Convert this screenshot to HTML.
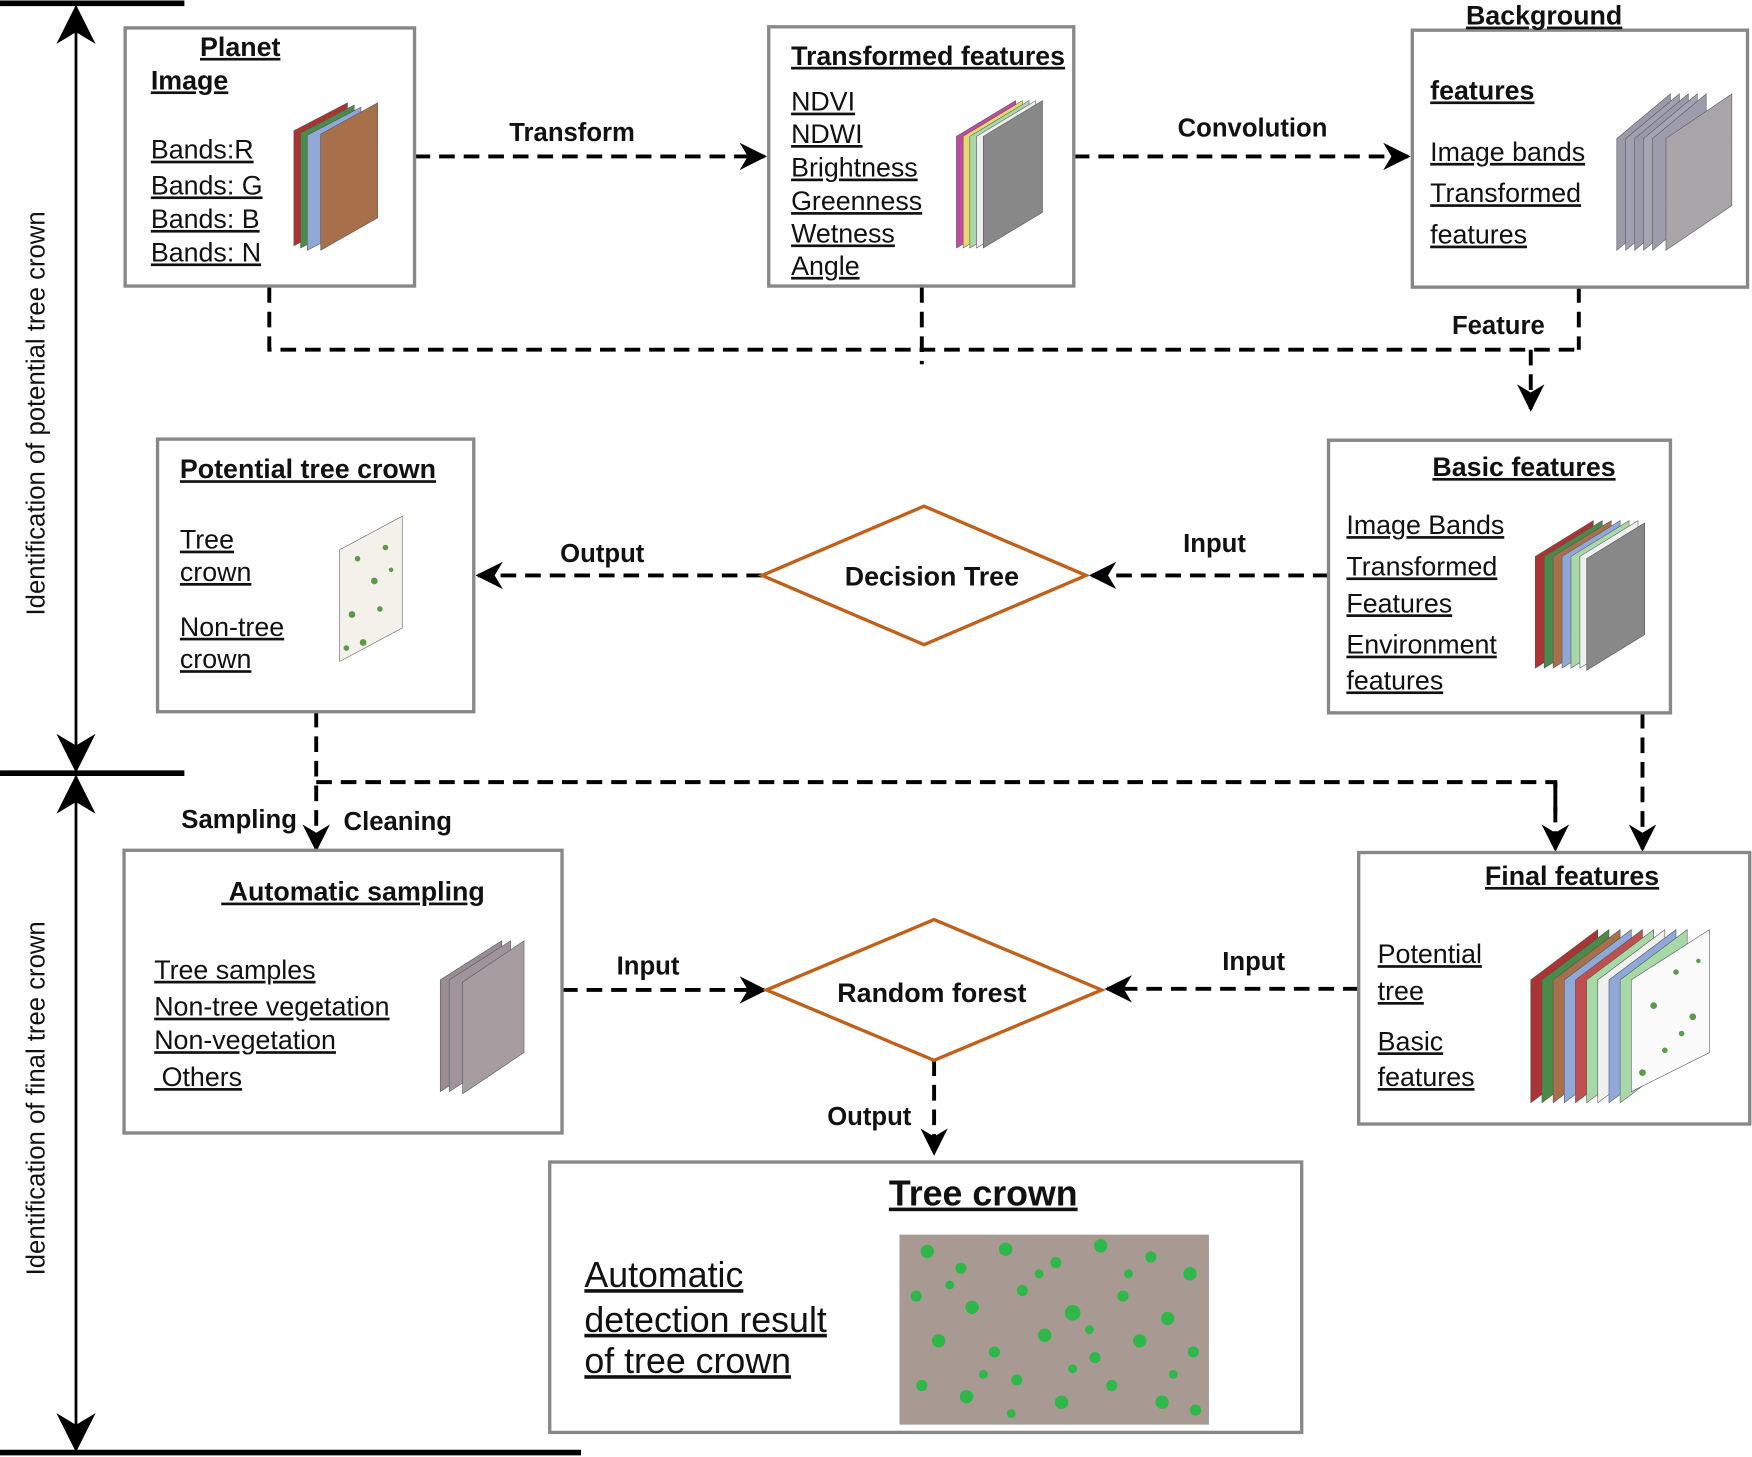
<!DOCTYPE html>
<html><head><meta charset="utf-8"><style>
html,body{margin:0;padding:0;background:#fff;}
svg{display:block}
text{font-family:"Liberation Sans",sans-serif;fill:#111}
.u{text-decoration:underline}
.b{font-weight:bold}
.t{font-size:24px}
.l{font-size:23px;font-weight:bold}
.box{fill:#fff;stroke:#888;stroke-width:3}
.d{fill:none;stroke:#000;stroke-width:3.5;stroke-dasharray:14 8}
.dia{fill:#fff;stroke:#c0601a;stroke-width:3}
</style></head><body>
<svg width="1752" height="1457" viewBox="0 0 1568 1304" xmlns="http://www.w3.org/2000/svg">
<defs>
<marker id="ah" viewBox="0 0 20 20" refX="18" refY="10" markerWidth="7" markerHeight="7" orient="auto" markerUnits="strokeWidth">
<path d="M0,0 L20,10 L0,20 L6,10 Z" fill="#000"/>
</marker>
<marker id="ah2" viewBox="0 0 20 20" refX="19" refY="10" markerWidth="14" markerHeight="14" orient="auto-start-reverse" markerUnits="strokeWidth">
<path d="M0,0 L20,10 L0,20 L6,10 Z" fill="#000"/>
</marker>
</defs>
<!-- side rulers -->
<line x1="0" y1="3" x2="165" y2="3" stroke="#000" stroke-width="5"/>
<line x1="0" y1="692" x2="165" y2="692" stroke="#000" stroke-width="5"/>
<line x1="0" y1="1300" x2="520" y2="1300" stroke="#000" stroke-width="5"/>
<line x1="68" y1="6" x2="68" y2="690" stroke="#000" stroke-width="2.5" marker-start="url(#ah2)" marker-end="url(#ah2)"/>
<line x1="68" y1="695" x2="68" y2="1298" stroke="#000" stroke-width="2.5" marker-start="url(#ah2)" marker-end="url(#ah2)"/>
<text x="40" y="370" font-size="23" text-anchor="middle" transform="rotate(-90 40 370)">Identification of potential tree crown</text>
<text x="40" y="983" font-size="23" text-anchor="middle" transform="rotate(-90 40 983)">Identification of final tree crown</text>

<!-- connectors -->
<line class="d" x1="371" y1="140" x2="684" y2="140" marker-end="url(#ah)"/>
<text class="l" x="512" y="126" text-anchor="middle">Transform</text>
<line class="d" x1="961" y1="140" x2="1260" y2="140" marker-end="url(#ah)"/>
<text class="l" x="1121" y="122" text-anchor="middle">Convolution</text>
<polyline class="d" points="241,257 241,313 1413,313"/>
<line class="d" x1="825" y1="257" x2="825" y2="326"/>
<line class="d" x1="1413" y1="257" x2="1413" y2="313"/>
<line class="d" x1="1370" y1="313" x2="1370" y2="366" marker-end="url(#ah)"/>
<text class="l" x="1341" y="299" text-anchor="middle">Feature</text>
<line class="d" x1="1189" y1="515" x2="977" y2="515" marker-end="url(#ah)"/>
<text class="l" x="1087" y="494" text-anchor="middle">Input</text>
<line class="d" x1="682" y1="515" x2="428" y2="515" marker-end="url(#ah)"/>
<text class="l" x="539" y="503" text-anchor="middle">Output</text>
<line class="d" x1="283" y1="637" x2="283" y2="760" marker-end="url(#ah)"/>
<polyline class="d" points="283,700 1392,700 1392,730"/>
<line class="d" x1="1392" y1="700" x2="1392" y2="760" marker-end="url(#ah)"/>
<line class="d" x1="1470" y1="638" x2="1470" y2="760" marker-end="url(#ah)"/>
<text class="l" x="214" y="741" text-anchor="middle">Sampling</text>
<text class="l" x="356" y="743" text-anchor="middle">Cleaning</text>
<line class="d" x1="503" y1="886" x2="684" y2="886" marker-end="url(#ah)"/>
<text class="l" x="580" y="872" text-anchor="middle">Input</text>
<line class="d" x1="1216" y1="885" x2="991" y2="885" marker-end="url(#ah)"/>
<text class="l" x="1122" y="868" text-anchor="middle">Input</text>
<line class="d" x1="836" y1="949" x2="836" y2="1032" marker-end="url(#ah)"/>
<text class="l" x="778" y="1007" text-anchor="middle">Output</text>

<!-- boxes -->
<rect class="box" x="112" y="25" width="259" height="231"/>
<rect class="box" x="688" y="24" width="273" height="232"/>
<rect class="box" x="1264" y="27" width="300" height="230"/>
<rect class="box" x="141" y="393" width="283" height="244"/>
<rect class="box" x="1189" y="394" width="306" height="244"/>
<rect class="box" x="111" y="761" width="392" height="253"/>
<rect class="box" x="1216" y="763" width="350" height="243"/>
<rect class="box" x="492" y="1040" width="673" height="242"/>

<polygon class="dia" points="682,515 827,453 972,515 827,577"/>
<text x="834" y="524" font-size="24" font-weight="bold" text-anchor="middle">Decision Tree</text>
<polygon class="dia" points="686,886 836,823 986,886 836,949"/>
<text x="834" y="897" font-size="24" font-weight="bold" text-anchor="middle">Random forest</text>

<!-- image stacks -->
<g stroke="#555" stroke-width="0.5">
<polygon points="263,117 311,92 311,195 263,220" fill="#a33"/>
<polygon points="269,119 317,94 317,197 269,222" fill="#4a8a4a"/>
<polygon points="275,121 323,96 323,199 275,224" fill="#8fa8d8"/>
<polygon points="287,120 338,92 338,195 287,224" fill="#a8704a"/>

<polygon points="856,122 909,90 909,190 856,222" fill="#c04aa0"/>
<polygon points="862,122 915,90 915,190 862,222" fill="#e8d870"/>
<polygon points="868,122 921,90 921,190 868,222" fill="#a8d8a8"/>
<polygon points="874,122 927,90 927,190 874,222" fill="#f0f0f0"/>
<polygon points="880,122 933,90 933,190 880,222" fill="#888"/>

<polygon points="1447,124 1495,84 1495,184 1447,224" fill="#9a9aa8"/>
<polygon points="1455,124 1503,84 1503,184 1455,224" fill="#a0a0b0"/>
<polygon points="1463,124 1511,84 1511,184 1463,224" fill="#989aa8"/>
<polygon points="1471,124 1519,84 1519,184 1471,224" fill="#a4a4b2"/>
<polygon points="1479,124 1527,84 1527,184 1479,224" fill="#9c9cac"/>
<polygon points="1491,124 1550,84 1550,184 1491,224" fill="#a8a4a8"/>

<polygon points="304,492 360,462 360,562 304,592" fill="#f4f0ea"/>

<polygon points="1374,498 1426,466 1426,566 1374,598" fill="#a33"/>
<polygon points="1382,498 1434,466 1434,566 1382,598" fill="#4a8a4a"/>
<polygon points="1390,498 1442,466 1442,566 1390,598" fill="#a8704a"/>
<polygon points="1398,498 1450,466 1450,566 1398,598" fill="#8fa8d8"/>
<polygon points="1406,498 1458,466 1458,566 1406,598" fill="#a8d8a8"/>
<polygon points="1414,498 1466,466 1466,566 1414,598" fill="#f0f0f0"/>
<polygon points="1420,500 1472,468 1472,568 1420,600" fill="#888"/>

<polygon points="394,877 449,842 449,942 394,977" fill="#9a8e94"/>
<polygon points="402,877 457,842 457,942 402,977" fill="#a0949a"/>
<polygon points="414,879 469,842 469,942 414,979" fill="#a69ca0"/>

<polygon points="1370,877 1430,832 1430,942 1370,987" fill="#a33"/>
<polygon points="1380,877 1440,832 1440,942 1380,987" fill="#4a8a4a"/>
<polygon points="1390,877 1450,832 1450,942 1390,987" fill="#a8704a"/>
<polygon points="1400,877 1460,832 1460,942 1400,987" fill="#8fa8d8"/>
<polygon points="1410,877 1470,832 1470,942 1410,987" fill="#c05050"/>
<polygon points="1420,877 1480,832 1480,942 1420,987" fill="#a8d8a8"/>
<polygon points="1430,877 1490,832 1490,942 1430,987" fill="#f0f0f0"/>
<polygon points="1440,877 1500,832 1500,942 1440,987" fill="#8fa8d8"/>
<polygon points="1450,877 1510,832 1510,942 1450,987" fill="#a8d8a8"/>
<polygon points="1460,877 1530,832 1530,942 1460,977" fill="#fafafa"/>
</g>
<g fill="#5a9a4a">
<circle cx="320" cy="500" r="2.5"/><circle cx="335" cy="520" r="3"/><circle cx="345" cy="490" r="2.5"/><circle cx="315" cy="550" r="3"/><circle cx="340" cy="545" r="2.5"/><circle cx="325" cy="575" r="3"/><circle cx="350" cy="510" r="2"/><circle cx="310" cy="580" r="2.5"/>
<circle cx="1480" cy="900" r="3"/><circle cx="1500" cy="870" r="2.5"/><circle cx="1515" cy="910" r="3"/><circle cx="1490" cy="940" r="2.5"/><circle cx="1470" cy="960" r="3"/><circle cx="1520" cy="860" r="2"/><circle cx="1505" cy="925" r="2.5"/>
</g>

<!-- tree crown image -->
<rect x="805" y="1105" width="277" height="170" fill="#a89a92"/>
<g fill="#2fb84a">
<circle cx="830" cy="1120" r="6"/><circle cx="860" cy="1135" r="5"/><circle cx="900" cy="1118" r="6"/><circle cx="945" cy="1130" r="5"/><circle cx="985" cy="1115" r="6"/><circle cx="1030" cy="1125" r="5"/><circle cx="1065" cy="1140" r="6"/>
<circle cx="820" cy="1160" r="5"/><circle cx="870" cy="1170" r="6"/><circle cx="915" cy="1155" r="5"/><circle cx="960" cy="1175" r="7"/><circle cx="1005" cy="1160" r="5"/><circle cx="1045" cy="1180" r="6"/>
<circle cx="840" cy="1200" r="6"/><circle cx="890" cy="1210" r="5"/><circle cx="935" cy="1195" r="6"/><circle cx="980" cy="1215" r="5"/><circle cx="1020" cy="1200" r="6"/><circle cx="1068" cy="1210" r="5"/>
<circle cx="825" cy="1240" r="5"/><circle cx="865" cy="1250" r="6"/><circle cx="910" cy="1235" r="5"/><circle cx="950" cy="1255" r="6"/><circle cx="995" cy="1240" r="5"/><circle cx="1040" cy="1255" r="6"/><circle cx="1070" cy="1262" r="5"/>
<circle cx="850" cy="1150" r="4"/><circle cx="930" cy="1140" r="4"/><circle cx="1010" cy="1140" r="4"/><circle cx="880" cy="1230" r="4"/><circle cx="960" cy="1225" r="4"/><circle cx="1050" cy="1230" r="4"/><circle cx="905" cy="1265" r="4"/><circle cx="975" cy="1190" r="4"/>
</g>

<!-- box texts -->
<g class="t">
<text x="179" y="50" class="u b">Planet</text>
<text x="135" y="80" class="u b">Image</text>
<text x="135" y="142" class="u">Bands:R</text>
<text x="135" y="174" class="u">Bands: G</text>
<text x="135" y="204" class="u">Bands: B</text>
<text x="135" y="234" class="u">Bands: N</text>

<text x="708" y="58" class="u b">Transformed features</text>
<text x="708" y="99" class="u">NDVI</text>
<text x="708" y="128" class="u">NDWI</text>
<text x="708" y="158" class="u">Brightness</text>
<text x="708" y="188" class="u">Greenness</text>
<text x="708" y="217" class="u">Wetness</text>
<text x="708" y="246" class="u">Angle</text>

<text x="1312" y="22" class="u b">Background</text>
<text x="1280" y="89" class="u b">features</text>
<text x="1280" y="144" class="u">Image bands</text>
<text x="1280" y="181" class="u">Transformed</text>
<text x="1280" y="218" class="u">features</text>

<text x="161" y="428" class="u b">Potential tree crown</text>
<text x="161" y="491" class="u">Tree</text>
<text x="161" y="520" class="u">crown</text>
<text x="161" y="569" class="u">Non-tree</text>
<text x="161" y="598" class="u">crown</text>

<text x="1282" y="426" class="u b">Basic features</text>
<text x="1205" y="478" class="u">Image Bands</text>
<text x="1205" y="515" class="u">Transformed</text>
<text x="1205" y="548" class="u">Features</text>
<text x="1205" y="585" class="u">Environment</text>
<text x="1205" y="617" class="u">features</text>

<text x="198" y="806" class="u b">&#160;Automatic sampling</text>
<text x="138" y="876" class="u">Tree samples</text>
<text x="138" y="909" class="u">Non-tree vegetation</text>
<text x="138" y="939" class="u">Non-vegetation</text>
<text x="138" y="972" class="u">&#160;Others</text>

<text x="1329" y="792" class="u b">Final features</text>
<text x="1233" y="862" class="u">Potential</text>
<text x="1233" y="895" class="u">tree</text>
<text x="1233" y="940" class="u">Basic</text>
<text x="1233" y="972" class="u">features</text>
</g>
<text x="880" y="1079" font-size="32" font-weight="bold" class="u" text-anchor="middle">Tree crown</text>
<text x="523" y="1152" font-size="32" class="u">Automatic</text>
<text x="523" y="1192" font-size="32" class="u">detection result</text>
<text x="523" y="1229" font-size="32" class="u">of tree crown</text>
</svg>
</body></html>
